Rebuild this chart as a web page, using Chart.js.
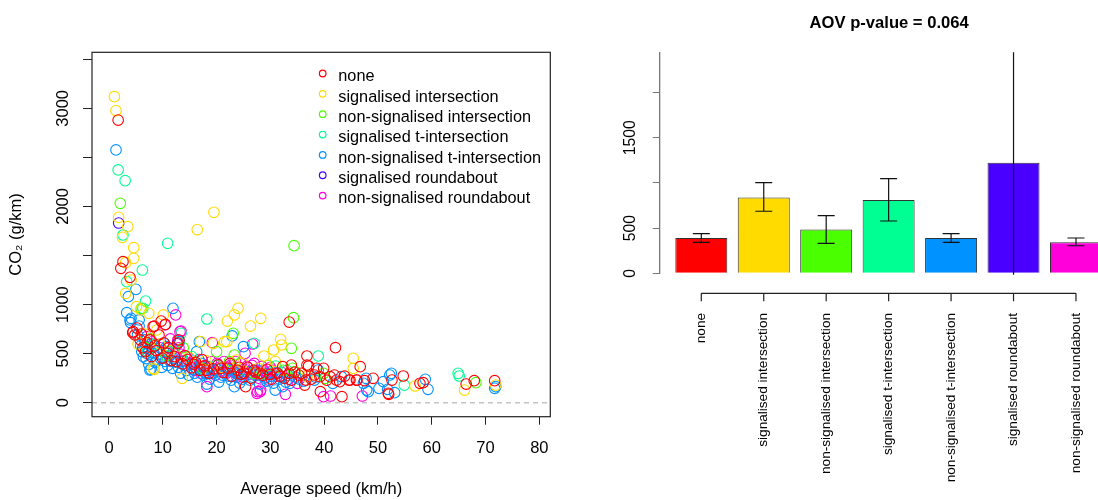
<!DOCTYPE html>
<html>
<head>
<meta charset="utf-8">
<script src="https://cdn.jsdelivr.net/npm/chart.js@4"></script>
<style>
  html, body { margin: 0; padding: 0; background: #fff; overflow: hidden; width: 1098px; height: 500px; }
  #scatterChart { position: absolute; left: 0; top: 0; }
  #barChart { position: absolute; left: 560px; top: 0; }
</style>
</head>
<body>
<canvas id="scatterChart" width="560" height="500"></canvas>
<canvas id="barChart" width="560" height="500"></canvas>
<script>
// ---- data ----
const categories = ["none", "signalised intersection", "non-signalised intersection",
  "signalised t-intersection", "non-signalised t-intersection",
  "signalised roundabout", "non-signalised roundabout"];
const colours = ["#FF0000", "#FFDB00", "#49FF00", "#00FF92", "#0092FF", "#4900FF", "#FF00DB"];

// [average speed km/h, CO2 g/km]
const none = [[1.7,2880],[2.6,1437],[2.2,1369],[3.9,1278],[4.5,724],[4.4,713],[4.8,690],[5.2,760],[5.8,640],[6.3,560],
  [7.1,610],[7.9,470],[8.2,775],[8.4,781],[8.8,530],[9.3,690],[9.7,832],[9.9,455],[10.5,798],[10.8,505],[11.6,430],
  [12.2,470],[12.8,608],[13.0,639],[13.7,395],[14.6,440],[15.3,355],[16.1,410],[16.9,330],[17.8,375],[18.6,300],
  [19.4,345],[20.3,385],[21.2,310],[22.1,350],[22.8,270],[23.9,330],[24.6,290],[25.4,163],[25.8,360],[26.4,250],
  [27.3,310],[28.6,280],[29.4,340],[30.2,240],[31.3,300],[32.3,367],[32.6,250],[33.5,822],[33.5,299],[33.9,384],
  [33.9,230],[35.3,282],[35.8,300],[36.4,180],[36.6,231],[36.8,476],[36.8,384],[37.1,374],[37.6,240],[38.2,282],
  [38.6,350],[39.2,265],[39.3,112],[39.9,350],[40.5,230],[41.1,265],[41.9,282],[42.1,561],[42.3,231],[42.9,214],
  [43.3,61],[43.8,270],[44.6,231],[44.8,231],[46.0,231],[46.1,231],[46.7,367],[47.5,224],[49.1,248],[51.9,96],
  [52.0,85],[52.6,231],[54.7,272],[57.8,197],[58.4,204],[66.4,190],[67.9,224],[71.7,224],
  [6.0,700],[6.8,520],[7.6,640],[8.5,580],[10.2,610],[11.1,560],[12.5,420],[14.1,480],[15.8,390],[17.3,440],
  [18.2,330],[20.8,350],[22.5,400],[24.2,360],[25.1,300],[26.9,330],[28.1,300],[29.9,290],[31.8,270],[34.5,310]];
const signalisedIntersection = [[1.0,3119],[1.3,2977],[1.8,1889],[3.5,1794],[2.5,1685],[19.5,1940],[16.4,1764],
  [4.6,1580],[4.6,1471],[3.1,1427],[4.1,1250],[3.1,1114],[5.1,979],[24.0,962],[5.9,945],[7.4,911],[10.1,894],
  [23.3,894],[28.2,860],[22.0,832],[26.3,781],[8.9,741],[6.6,700],[31.9,646],[30.6,537],[32.1,588],[28.8,476],
  [45.4,452],[45.4,350],[19.4,605],[17.0,622],[21.5,622],[21.9,622],[9.4,600],[11.3,530],[8.4,340],[8.2,350],
  [13.6,248],[5.4,598],[23.7,435],[14.9,460],[18.0,430],[21.0,360],[24.8,400],[27.7,350],[30.9,420],[36.8,265],
  [56.9,170],[66.1,129],[71.9,180]];
const nonSignalisedIntersection = [[2.1,2032],[34.4,1600],[34.3,866],[6.0,960],[23.1,707],[7.7,650],[13.8,560],
  [33.9,554],[23.3,486],[20.0,520],[10.6,480],[22.4,420],[29.6,380],[17.4,350],[32.4,330],[34.6,316],[34.1,350],
  [26.9,300],[39.9,299],[40.2,248],[68.2,204]];
const signalisedTIntersection = [[1.7,2372],[3.0,2263],[2.6,1709],[10.9,1624],[6.2,1352],[3.3,1233],[6.8,1036],
  [6.3,962],[18.2,853],[13.4,707],[8.3,590],[27.0,605],[7.1,520],[11.1,520],[15.4,470],[38.9,476],[19.9,380],
  [31.0,374],[24.2,330],[33.1,330],[28.3,290],[54.9,180],[64.9,299],[65.1,272]];
const nonSignalisedTIntersection = [[1.3,2576],[5.0,1155],[3.6,1080],[11.9,962],[3.3,917],[4.1,860],[4.0,815],
  [5.6,843],[5.6,781],[3.9,843],[22.9,680],[16.8,622],[13.1,622],[10.3,605],[6.8,605],[7.0,503],[7.8,340],
  [6.7,571],[6.4,469],[7.6,333],[8.9,435],[10.7,571],[16.3,520],[25.0,571],[6.1,520],[6.9,450],[7.4,390],
  [8.1,560],[8.6,410],[9.2,490],[9.8,360],[10.4,420],[11.2,470],[11.8,350],[12.6,410],[13.3,300],[14.1,380],
  [14.8,280],[15.6,340],[16.4,260],[17.2,400],[17.9,300],[18.7,240],[19.6,330],[20.4,210],[21.1,280],[21.9,340],
  [22.7,230],[23.6,300],[24.3,200],[25.1,270],[26.2,230],[27.1,280],[28.0,190],[28.9,250],[29.8,300],[30.6,200],
  [31.7,240],[32.9,210],[34.7,260],[36.2,220],[38.4,260],[18.2,190],[23.3,163],[30.9,129],[32.3,163],[33.6,197],
  [38.9,333],[38.2,231],[41.6,197],[43.2,265],[47.3,197],[47.8,248],[47.9,129],[48.2,112],[50.2,146],[51.0,214],
  [51.8,136],[52.2,282],[52.5,299],[53.1,102],[58.8,238],[59.3,136],[71.7,146],[71.9,163],
  [5.3,690],[5.9,580],[6.6,640],[7.3,540],[7.9,600],[8.4,500],[9.6,450],[10.1,530],[10.9,380],[11.5,420],
  [12.1,450],[12.9,360],[13.6,420],[14.4,330],[15.2,390],[15.9,300],[16.8,350],[17.6,280],[18.4,370],[19.2,300],
  [20.1,340],[20.8,260],[21.6,310],[22.3,270],[23.2,350],[24.0,290],[24.8,240],[25.6,320],[26.7,260],[27.6,330],
  [28.5,270],[29.3,220],[30.2,270],[31.2,310],[33.2,280],[35.4,240]];
const signalisedRoundabout = [[1.8,1831],[12.7,600]];
const nonSignalisedRoundabout = [[12.4,894],[13.4,730],[10.4,792],[11.4,650],[7.0,673],[12.8,639],[13.2,724],
  [9.5,560],[19.2,612],[26.7,598],[13.4,493],[25.3,503],[14.3,470],[15.1,400],[15.9,330],[16.7,440],[17.5,370],
  [18.3,310],[19.0,420],[19.8,280],[20.6,360],[21.4,420],[21.8,300],[22.6,380],[23.2,320],[23.8,260],[24.5,400],
  [25.2,340],[25.9,290],[26.6,380],[27.2,320],[27.8,250],[28.4,370],[29.1,300],[29.7,230],[30.4,330],[31.2,270],
  [32.1,310],[33.4,240],[18.2,163],[27.6,112],[28.2,129],[28.1,112],[27.5,96],[32.8,85],[35.0,197],[39.9,61],
  [41.2,68],[47.1,68],
  [8.0,620],[10.9,560],[12.0,520],[13.0,560],[13.9,430],[16.3,380],[17.1,300],[18.8,350],[20.1,400],[21.1,330],
  [22.2,360],[23.5,420],[24.1,310],[24.9,260],[25.6,370],[26.2,310],[27.0,400],[27.5,280],[28.7,330],[29.4,260],
  [30.0,360],[30.8,300]];
const scatterSeries = [none, signalisedIntersection, nonSignalisedIntersection, signalisedTIntersection,
  nonSignalisedTIntersection, signalisedRoundabout, nonSignalisedRoundabout];

const speedTicks = [0, 10, 20, 30, 40, 50, 60, 70, 80];
const co2Ticks = [0, 500, 1000, 1500, 2000, 2500, 3000, 3500];
const co2Labels = [0, 500, 1000, 2000, 3000];

// bar chart: mean CO2 per category with error bar ends
const barMeans = [391, 840, 484, 812, 391, 1225, 345];
const errLow = [343, 687, 332, 579, 343, -125, 305];
const errHigh = [439, 1003, 638, 1048, 439, 2575, 391];
const barTicks = [0, 500, 1000, 1500, 2000];
const barLabels = [0, 500, 1500];

const FONT = '"Liberation Sans", Arial, Helvetica, sans-serif';
Chart.defaults.font.family = FONT;
Chart.defaults.color = "#000";

// rotated y tick labels, R style
function drawYLabels(chart, values, x, size) {
    const ctx = chart.ctx;
    const scale = chart.scales.y;
    ctx.save();
    ctx.font = size + "px " + FONT;
    ctx.fillStyle = "#000";
    ctx.textAlign = "center";
    ctx.textBaseline = "alphabetic";
    values.forEach(v => {
        ctx.save();
        ctx.translate(x, scale.getPixelForValue(v));
        ctx.rotate(-Math.PI / 2);
        ctx.fillText(String(v), 0, 0);
        ctx.restore();
    });
    ctx.restore();
}

const scatterDecor = {
    id: "scatterDecor",
    beforeDatasetsDraw(chart) {
        const ctx = chart.ctx, a = chart.chartArea;
        const y0 = chart.scales.y.getPixelForValue(0);
        ctx.save();
        ctx.strokeStyle = "#c4c4c4";
        ctx.lineWidth = 1.5;
        ctx.setLineDash([5, 4]);
        ctx.beginPath();
        ctx.moveTo(a.left, y0);
        ctx.lineTo(a.right, y0);
        ctx.stroke();
        ctx.restore();
    },
    afterDraw(chart) {
        const ctx = chart.ctx, a = chart.chartArea;
        ctx.save();
        ctx.strokeStyle = "#222";
        ctx.lineWidth = 1.2;
        ctx.strokeRect(a.left, a.top, a.right - a.left, a.bottom - a.top);
        // legend
        ctx.font = "16.3px " + FONT;
        ctx.textBaseline = "alphabetic";
        ctx.fillStyle = "#000";
        chart.data.datasets.forEach((ds, i) => {
            const y = 73.5 + i * 20.35;
            ctx.beginPath();
            ctx.strokeStyle = ds.borderColor;
            ctx.lineWidth = 1.2;
            ctx.arc(322.7, y, 3.3, 0, Math.PI * 2);
            ctx.stroke();
            ctx.fillText(ds.label, 338.3, y + 7.7);
        });
        ctx.restore();
        drawYLabels(chart, co2Labels, 68, 16.5);
    }
};

new Chart(document.getElementById("scatterChart"), {
    type: "scatter",
    data: {
        datasets: scatterSeries.map((pts, i) => ({
            label: categories[i],
            data: pts.map(p => ({ x: p[0], y: p[1] })),
            borderColor: colours[i],
            backgroundColor: "transparent",
            pointRadius: 5.3,
            pointBorderWidth: 1.1
        }))
    },
    options: {
        responsive: false,
        animation: false,
        devicePixelRatio: 1,
        layout: { padding: { left: 0, right: 9.7, top: 52.3, bottom: 0 } },
        plugins: { legend: { display: false }, tooltip: { enabled: false } },
        scales: {
            x: {
                type: "linear", min: -3.16, max: 82.04,
                afterBuildTicks: s => { s.ticks = speedTicks.map(v => ({ value: v })); },
                afterFit: s => { s.height = 83.3; s.paddingLeft = 0; s.paddingRight = 0; },
                grid: { drawOnChartArea: false, tickLength: 8, color: "#222" },
                border: { display: false },
                ticks: { font: { size: 16.5 }, color: "#000", padding: 14, maxRotation: 0, autoSkip: false },
                title: { display: true, text: "Average speed (km/h)", font: { size: 16.5 }, color: "#000",
                         padding: { top: 0.4, bottom: 0.4 } }
            },
            y: {
                type: "linear", min: -142.7, max: 3570.7,
                afterBuildTicks: s => { s.ticks = co2Ticks.map(v => ({ value: v })); },
                afterFit: s => { s.width = 92; s.paddingTop = 0; s.paddingBottom = 0; },
                grid: { drawOnChartArea: false, tickLength: 9, color: "#222" },
                border: { display: false },
                ticks: { display: false },
                title: { display: true, text: "CO\u2082 (g/km)", font: { size: 16.5 }, color: "#000",
                         padding: { top: 6.6, bottom: 6.6 } }
            }
        }
    },
    plugins: [scatterDecor]
});

const barDecor = {
    id: "barDecor",
    afterDatasetsDraw(chart) {
        const ctx = chart.ctx, a = chart.chartArea, y = chart.scales.y;
        const meta = chart.getDatasetMeta(0);
        ctx.save();
        ctx.beginPath();
        ctx.rect(a.left, a.top, a.right - a.left, a.bottom - a.top + 1.5);
        ctx.clip();
        ctx.strokeStyle = "#111";
        ctx.lineWidth = 1.2;
        meta.data.forEach((bar, i) => {
            const hi = y.getPixelForValue(errHigh[i]);
            const lo = y.getPixelForValue(errLow[i]);
            ctx.beginPath();
            ctx.moveTo(bar.x, hi); ctx.lineTo(bar.x, lo);
            ctx.moveTo(bar.x - 8.5, hi); ctx.lineTo(bar.x + 8.5, hi);
            ctx.moveTo(bar.x - 8.5, lo); ctx.lineTo(bar.x + 8.5, lo);
            ctx.stroke();
        });
        ctx.restore();
    },
    afterDraw(chart) {
        const ctx = chart.ctx, x = chart.scales.x;
        const yLine = chart.chartArea.bottom + 20;
        const x0 = x.getPixelForValue(0), x1 = x.getPixelForValue(categories.length - 1);
        ctx.save();
        ctx.strokeStyle = "#222";
        ctx.lineWidth = 1.2;
        ctx.beginPath();
        ctx.moveTo(x0, yLine); ctx.lineTo(x1, yLine);
        categories.forEach((c, i) => {
            const px = x.getPixelForValue(i);
            ctx.moveTo(px, yLine); ctx.lineTo(px, yLine + 8);
        });
        ctx.stroke();
        ctx.restore();
        drawYLabels(chart, barLabels, 75, 15.7);
    }
};

new Chart(document.getElementById("barChart"), {
    type: "bar",
    data: {
        datasets: [{
            data: barMeans.map((v, i) => ({ x: i, y: v })),
            backgroundColor: colours,
            borderColor: "#333",
            borderWidth: 1,
            barPercentage: 52 / 62.45,
            categoryPercentage: 1
        }]
    },
    options: {
        responsive: false,
        animation: false,
        devicePixelRatio: 1,
        layout: { padding: { left: 0, right: 1, top: 0, bottom: 0 } },
        plugins: {
            legend: { display: false },
            tooltip: { enabled: false },
            title: { display: true, text: "AOV p-value = 0.064", fullSize: false,
                     font: { size: 16.6, weight: "bold" }, color: "#000",
                     padding: { top: 13, bottom: 19.4 } }
        },
        scales: {
            x: {
                type: "linear", min: -0.6726, max: 6.689, offset: false,
                afterBuildTicks: s => { s.ticks = categories.map((c, i) => ({ value: i })); },
                afterFit: s => { s.height = 226.7; s.paddingLeft = 0; s.paddingRight = 0; },
                grid: { display: false, drawTicks: false, offset: false },
                border: { display: false },
                ticks: { callback: v => categories[v], minRotation: 90, maxRotation: 90, autoSkip: false,
                         padding: 39.7, font: { size: 13.6 }, color: "#000" }
            },
            y: {
                min: 0, max: 2447,
                afterBuildTicks: s => { s.ticks = barTicks.map(v => ({ value: v })); },
                afterFit: s => { s.width = 99.3; s.paddingTop = 0; s.paddingBottom = 0; },
                grid: { drawOnChartArea: false, tickLength: 6.6, color: "#777" },
                border: { color: "#777", width: 1.3 },
                ticks: { display: false }
            }
        }
    },
    plugins: [barDecor]
});
</script>
</body>
</html>
